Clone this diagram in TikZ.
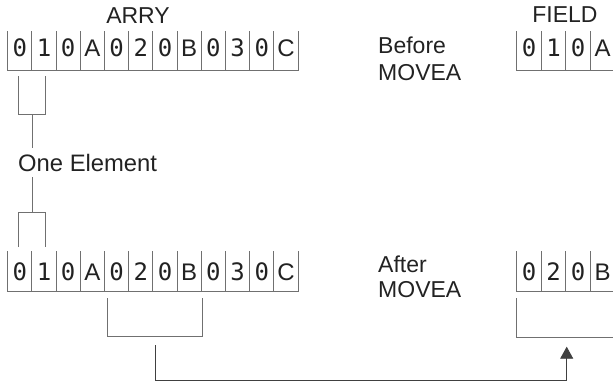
\documentclass[tikz,border=0pt]{standalone}
\usepackage{fontspec}
\setmainfont{Liberation Sans}
\newfontfamily\monofnt{DejaVu Sans Mono}
\usetikzlibrary{arrows.meta}
\newcommand\dg[1]{{\monofnt #1}}
\definecolor{linegray}{HTML}{707070}
\definecolor{txt}{HTML}{222222}
\tikzset{
  lbl/.style={inner sep=0pt, text=txt, font=\fontsize{23}{26}\selectfont},
  cellbox/.style={inner sep=0pt, minimum width=#1, text=txt, font=\fontsize{24}{26}\selectfont},
  topcell/.style={cellbox=24.2pt, text height=25pt, text depth=14pt},
  botcell/.style={cellbox=24.2pt, text height=29pt, text depth=11pt},
  ftopcell/.style={cellbox=24.5pt, text height=25pt, text depth=14pt},
  fbotcell/.style={cellbox=24.5pt, text height=29pt, text depth=11pt},
  sep/.style={draw=linegray, line width=0.8pt},
  base/.style={draw=linegray, line width=1.3pt},
  brk/.style={draw=linegray, line width=0.9pt},
  conn/.style={draw=black!75, line width=0.9pt},
}
\begin{document}
\begin{tikzpicture}[x=1pt,y=-1pt]
\useasboundingbox (0,0) rectangle (613,383);
\clip (0,0) rectangle (613,383);

% labels
\node[lbl] (arry) at (138,16) {ARRY};
\node[lbl] (field) at (565,15) {FIELD};
\node[lbl, anchor=base west, align=left] (before) at (378,80) {Before\\[1pt]MOVEA};
\node[lbl, anchor=base west, align=left] (after) at (378,297.3) {After\\[-0.7pt]MOVEA};
\node[lbl, anchor=base west, font=\fontsize{23.8}{26}\selectfont] (oe) at (18,171.7) {One Element};

% ARRY before
\foreach \t [count=\i] in {\dg0,\dg1,\dg0,A,\dg0,\dg2,\dg0,B,\dg0,\dg3,\dg0,C}{
  \node[topcell, anchor=south west] (a\i) at ({7.5+24.2*(\i-1)},70.7) {\t};
  \draw[sep] (a\i.north west) -- (a\i.south west);
}
\draw[sep] (a12.north east) -- (a12.south east);
\draw[base] (a1.south west) -- (a12.south east);

% ARRY after
\foreach \t [count=\i] in {\dg0,\dg1,\dg0,A,\dg0,\dg2,\dg0,B,\dg0,\dg3,\dg0,C}{
  \node[botcell, anchor=south west] (b\i) at ({7.5+24.2*(\i-1)},291.7) {\t};
  \draw[sep] (b\i.north west) -- (b\i.south west);
}
\draw[sep] (b12.north east) -- (b12.south east);
\draw[base] (b1.south west) -- (b12.south east);

% FIELD before
\foreach \t [count=\i] in {\dg0,\dg1,\dg0,A}{
  \node[ftopcell, anchor=south west] (f\i) at ({516.7+24.5*(\i-1)},70.7) {\t};
  \draw[sep] (f\i.north west) -- (f\i.south west);
}
\draw[sep] (f4.north east) -- (f4.south east);
\draw[base] (f1.south west) -- (f4.south east);

% FIELD after
\foreach \t [count=\i] in {\dg0,\dg2,\dg0,B}{
  \node[fbotcell, anchor=south west] (g\i) at ({516.7+24.5*(\i-1)},291.7) {\t};
  \draw[sep] (g\i.north west) -- (g\i.south west);
}
\draw[sep] (g4.north east) -- (g4.south east);
\draw[base] (g1.south west) -- (g4.south east);

% one-element brackets
\coordinate (s1) at (32,114);
\coordinate (s1e) at (32,148);
\coordinate (s2) at (32,177);
\coordinate (s2e) at (32,212);
\draw[brk] (18.3,76) -- (18.3,114) -- (45,114) -- (45,76);
\draw[brk] (s1) -- (s1e);
\draw[brk] (s2) -- (s2e);
\draw[brk] (18.3,247) -- (18.3,212) -- (45,212) -- (45,247);

% moved range brackets
\draw[brk] (107,298) -- (107,336) -- (202,336) -- (202,298);
\draw[brk] (516.7,298) -- (516.7,337) -- (614.7,337) -- (614.7,298);
\coordinate (m1) at (155,345);
\coordinate (m2) at (566.7,346.7);
\draw[conn, -{Triangle[length=12pt,width=13pt]}] (m1) -- (155,380) -| (m2);
\end{tikzpicture}
\end{document}
